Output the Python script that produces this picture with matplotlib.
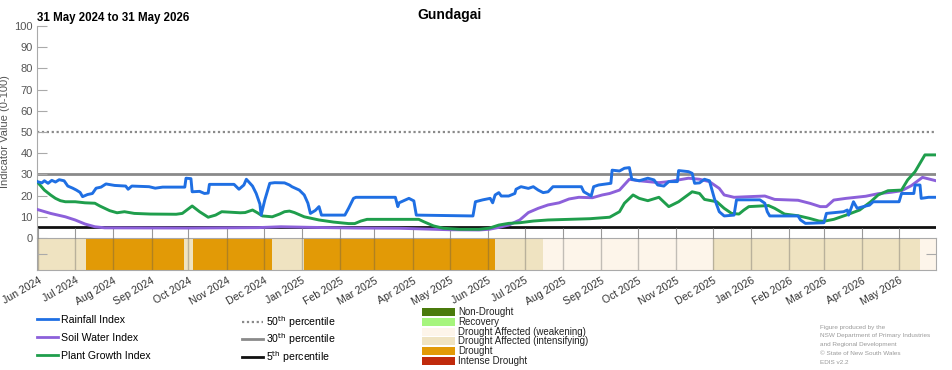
import matplotlib
matplotlib.use('Agg')
import matplotlib.pyplot as plt
from matplotlib.lines import Line2D
from matplotlib.patches import Rectangle
import pandas as pd

plt.rcParams['font.family'] = ['Liberation Sans', 'DejaVu Sans']

# ---------------- data ----------------
rain_dates = ['2024-05-31','2024-06-04','2024-06-06','2024-06-09','2024-06-12','2024-06-15','2024-06-18','2024-06-22',
              '2024-06-25','2024-06-29','2024-07-02','2024-07-05','2024-07-07','2024-07-11','2024-07-15','2024-07-18',
              '2024-07-22','2024-07-26','2024-08-02','2024-08-11','2024-08-13','2024-08-16','2024-08-30','2024-09-04',
              '2024-09-10','2024-09-28','2024-09-29','2024-10-03','2024-10-04','2024-10-10','2024-10-14','2024-10-17',
              '2024-10-18','2024-11-07','2024-11-11','2024-11-15','2024-11-17','2024-11-22','2024-11-25','2024-11-28',
              '2024-11-29','2024-12-02','2024-12-06','2024-12-10','2024-12-18','2024-12-22','2024-12-24','2024-12-30',
              '2025-01-03','2025-01-06','2025-01-08','2025-01-12','2025-01-15','2025-01-17','2025-02-05','2025-02-08',
              '2025-02-12','2025-02-14','2025-03-18','2025-03-20','2025-03-21','2025-03-29','2025-04-02','2025-04-04',
              '2025-05-20','2025-05-22','2025-05-28','2025-06-03','2025-06-05','2025-06-07','2025-06-10','2025-06-12',
              '2025-06-18','2025-06-23','2025-06-24','2025-06-28','2025-07-04','2025-07-08','2025-07-12','2025-07-16',
              '2025-07-20','2025-07-24','2025-08-16','2025-08-18','2025-08-24','2025-08-26','2025-08-30','2025-09-09',
              '2025-09-10','2025-09-16','2025-09-20','2025-09-24','2025-09-26','2025-10-02','2025-10-09','2025-10-14',
              '2025-10-17','2025-10-22','2025-10-26','2025-11-02','2025-11-03','2025-11-11','2025-11-14','2025-11-16',
              '2025-11-20','2025-11-24','2025-11-28','2025-12-02','2025-12-06','2025-12-10','2025-12-18','2025-12-20',
              '2026-01-08','2026-01-12','2026-01-14','2026-01-16','2026-02-08','2026-02-10','2026-02-14','2026-03-01',
              '2026-03-03','2026-03-17','2026-03-20','2026-03-21','2026-03-25','2026-03-28','2026-04-02','2026-04-07',
              '2026-04-10','2026-05-01','2026-05-03','2026-05-13','2026-05-14','2026-05-18','2026-05-19','2026-05-25',
              '2026-05-31']
rain_vals = [26.6,26.0,27.0,25.8,27.2,26.4,27.5,27.0,
             24.5,23.5,22.6,21.5,19.5,20.5,21.0,23.5,
             24.0,25.5,24.8,24.5,23.0,24.5,24.2,23.5,
             24.0,24.0,28.2,28.0,21.8,22.0,21.0,21.2,
             25.3,25.3,23.0,25.0,27.7,24.5,21.0,16.0,
             10.8,18.0,25.8,26.1,26.0,25.0,24.2,22.6,
             20.3,16.4,11.6,13.0,14.8,10.8,10.8,14.0,
             18.7,19.2,19.2,14.8,16.6,18.7,17.5,10.8,
             10.4,17.1,18.0,18.7,16.6,20.3,21.4,19.8,
             19.8,21.0,23.0,24.2,23.4,24.2,22.6,21.4,
             21.8,24.2,24.2,21.8,19.8,24.2,25.0,25.8,
             32.0,31.6,32.9,33.2,27.7,27.0,28.2,27.4,
             25.0,24.5,26.6,26.6,31.8,31.3,30.5,25.8,
             26.0,27.7,27.0,18.7,12.4,10.4,10.8,18.0,
             18.0,16.4,12.4,10.4,10.4,8.5,6.9,7.2,
             11.6,12.4,13.2,10.8,17.1,14.0,14.8,15.5,
             17.1,17.1,21.0,21.0,25.0,25.0,18.7,19.2,
             19.2]

soil_dates = ['2024-05-31','2024-06-11','2024-06-23','2024-07-01','2024-07-09','2024-07-17','2024-07-25','2024-09-30',
              '2024-11-27','2024-12-15','2025-01-10','2025-02-15','2025-03-21','2025-05-01','2025-05-25','2025-06-02',
              '2025-06-10','2025-06-18','2025-06-27','2025-07-04','2025-07-12','2025-07-20','2025-07-29','2025-08-06',
              '2025-08-14','2025-08-25','2025-09-02','2025-09-08','2025-09-16','2025-09-24','2025-10-02','2025-10-18',
              '2025-10-26','2025-11-03','2025-11-11','2025-11-20','2025-11-28','2025-12-06','2025-12-10','2025-12-18',
              '2025-12-30','2026-01-12','2026-01-20','2026-02-08','2026-02-18','2026-02-26','2026-03-03','2026-03-09',
              '2026-03-19','2026-04-04','2026-04-14','2026-04-25','2026-05-03','2026-05-11','2026-05-20','2026-05-31']
soil_vals = [13.5,11.6,10.0,8.5,6.6,5.3,4.8,4.7,
             4.9,5.3,5.0,4.7,4.6,3.9,3.8,4.1,
             5.0,6.1,8.5,12.0,14.0,15.6,16.6,18.4,
             19.2,19.0,20.3,21.0,22.6,27.7,27.0,26.1,
             26.6,27.4,28.2,27.7,26.6,23.4,20.3,19.2,
             19.5,19.8,18.2,17.8,16.3,14.8,14.8,17.9,
             18.7,19.7,20.9,21.6,22.3,24.7,28.6,27.0]

plant_dates = ['2024-05-31','2024-06-06','2024-06-11','2024-06-15','2024-06-19','2024-06-23','2024-07-01','2024-07-09',
               '2024-07-17','2024-07-21','2024-07-25','2024-07-29','2024-08-04','2024-08-10','2024-08-18','2024-08-31',
               '2024-09-21','2024-09-26','2024-10-04','2024-10-10','2024-10-17','2024-10-23','2024-10-28','2024-11-12',
               '2024-11-16','2024-11-22','2024-11-26','2024-11-30','2024-12-08','2024-12-14','2024-12-18','2024-12-22',
               '2024-12-26','2025-01-03','2025-01-15','2025-01-27','2025-02-08','2025-02-13','2025-02-18','2025-02-23',
               '2025-03-29','2025-04-06','2025-04-10','2025-04-18','2025-04-26','2025-05-09','2025-05-25','2025-06-02',
               '2025-06-10','2025-06-18','2025-06-27','2025-07-08','2025-07-20','2025-08-06','2025-08-23','2025-09-08',
               '2025-09-16','2025-09-20','2025-09-27','2025-10-02','2025-10-09','2025-10-18','2025-10-26','2025-11-03',
               '2025-11-14','2025-11-20','2025-11-24','2025-12-04','2025-12-10','2025-12-16','2025-12-22','2025-12-26',
               '2025-12-30','2026-01-15','2026-01-20','2026-01-28','2026-02-08','2026-02-17','2026-02-25','2026-03-01',
               '2026-03-09','2026-03-19','2026-03-30','2026-04-08','2026-04-14','2026-04-22','2026-05-03','2026-05-08',
               '2026-05-14','2026-05-22','2026-05-31']
plant_vals = [26.6,22.6,20.3,18.7,17.6,17.1,17.1,16.6,
              16.4,15.1,14.0,12.9,11.9,12.4,11.6,11.3,
              11.2,11.6,15.1,12.4,9.8,10.8,12.4,11.9,
              12.0,13.2,11.9,10.4,10.0,11.3,12.4,12.7,
              12.0,10.0,8.5,7.5,6.8,6.8,8.0,8.8,
              8.8,8.8,7.7,5.7,4.6,4.1,4.1,4.6,
              6.1,6.9,7.2,8.0,8.5,8.8,9.1,9.8,
              12.4,16.4,20.3,18.7,17.6,19.2,14.8,17.1,
              21.8,21.0,18.2,17.1,14.0,11.6,11.3,13.2,
              14.8,15.3,14.0,11.3,10.5,9.3,8.0,7.9,
              8.8,10.8,13.2,17.1,20.3,22.3,22.6,27.4,
              31.3,39.2,39.2]

band_starts = ['2024-05-31','2024-07-10','2024-09-27','2024-10-05','2024-12-08','2025-01-03',
               '2025-06-07','2025-07-16','2025-12-01','2026-05-18']
band_ends = ['2024-07-10','2024-09-27','2024-10-05','2024-12-08','2025-01-03','2025-06-07',
             '2025-07-16','2025-12-01','2026-05-18','2026-05-31']
band_cats = ['Drought Affected (intensifying)','Drought','Drought Affected (intensifying)','Drought',
             'Drought Affected (intensifying)','Drought','Drought Affected (intensifying)',
             'Drought Affected (weakening)','Drought Affected (intensifying)','Drought Affected (weakening)']

categories = ['Non-Drought','Recovery','Drought Affected (weakening)','Drought Affected (intensifying)',
              'Drought','Intense Drought']
cat_colors = ['#4a7a0c','#a6f57d','#fdf5ea','#efe3c1','#e29a06','#c02a0c']

percentiles = [50, 30, 5]

# ---------------- figure ----------------
W, H = 952, 370
fig = plt.figure(figsize=(9.52, 3.70), dpi=100)
ax = fig.add_axes([37/W, 1-238/H, (936-37)/W, (238-26)/H])
band = fig.add_axes([37/W, 1-270/H, (936-37)/W, 32/H], sharex=ax)

c_rain, c_soil, c_plant = '#1f6fe3', '#8c60da', '#1f9e4c'
dot = (0, (1, 1.2))

ax.axhline(percentiles[0], color='#8a8a8a', lw=1.6, ls=dot, zorder=1)
ax.axhline(percentiles[1], color='#8a8a8a', lw=2.0, zorder=1)
ax.axhline(percentiles[2], color='#111111', lw=2.0, zorder=1)

ax.plot(pd.to_datetime(soil_dates), soil_vals, color=c_soil, lw=2.1, zorder=3)
ax.plot(pd.to_datetime(plant_dates), plant_vals, color=c_plant, lw=2.1, zorder=4)
ax.plot(pd.to_datetime(rain_dates), rain_vals, color=c_rain, lw=2.1, zorder=5)

xmin, xmax = pd.Timestamp('2024-05-31'), pd.Timestamp('2026-05-31')
ax.set_xlim(xmin, xmax)
ax.set_ylim(0, 100)
ax.set_yticks(range(0, 101, 10))
months = pd.date_range('2024-06-01', '2026-05-01', freq='MS')
ax.set_xticks(months)
ax.tick_params(axis='y', direction='in', length=7, color='#aaaaaa', labelcolor='#555555', labelsize=8, pad=3)
ax.tick_params(axis='x', direction='in', length=7, color='#999999', labelbottom=False)
for s in ['top', 'right', 'bottom']:
    ax.spines[s].set_visible(False)
ax.spines['left'].set_color('#aaaaaa')
ax.set_ylabel('Indicator Value (0-100)', color='#555555', fontsize=8)
ax.yaxis.set_label_coords(-27/899, 0.5)

cmap = dict(zip(categories, cat_colors))
for s, e, c in zip(band_starts, band_ends, band_cats):
    band.axvspan(pd.Timestamp(s), pd.Timestamp(e), color=cmap[c], lw=0, zorder=0)
band.set_ylim(0, 1)
band.set_yticks([0.5])
band.tick_params(axis='y', direction='in', length=7, color='#aaaaaa', left=True, right=True,
                 labelleft=False)
band.grid(axis='x', color='#555555', alpha=0.35, lw=1.0, zorder=1)
band.set_axisbelow(False)
band.tick_params(axis='x', length=0, pad=4, labelsize=7.6, labelcolor='#333333')
band.set_xticks(months)
band.set_xticklabels([m.strftime('%b %Y') for m in months], rotation=30, ha='right', rotation_mode='anchor')
for s in band.spines.values():
    s.set_color('#aaaaaa')
band.set_xlim(xmin, xmax)

# titles
fig.text(449/W, 1-15/H, 'Gundagai', ha='center', va='center', fontsize=10, fontweight='bold')
fig.text(37/W, 1-18/H, '31 May 2024 to 31 May 2026', ha='left', va='center', fontsize=8.3,
         fontweight='bold')

# index legend
h1 = [Line2D([], [], color=c_rain, lw=2), Line2D([], [], color=c_soil, lw=2), Line2D([], [], color=c_plant, lw=2)]
fig.legend(h1, ['Rainfall Index', 'Soil Water Index', 'Plant Growth Index'], loc='upper left',
           bbox_to_anchor=(37/W, 1-315/H), frameon=False, fontsize=7.6, handlelength=2.0,
           handletextpad=0.3, labelspacing=0.75, borderpad=0, borderaxespad=0)
# percentile legend
h2 = [Line2D([], [], color='#8a8a8a', lw=1.6, ls=dot), Line2D([], [], color='#8a8a8a', lw=2),
      Line2D([], [], color='#111111', lw=2)]
fig.legend(h2, ['50$^{\\mathrm{th}}$ percentile', '30$^{\\mathrm{th}}$ percentile', '5$^{\\mathrm{th}}$ percentile'],
           loc='upper left', bbox_to_anchor=(242/W, 1-314/H), frameon=False, fontsize=7.6,
           handlelength=2.0, handletextpad=0.3, labelspacing=0.15, borderpad=0, borderaxespad=0)

# drought category legend
for i, (cat, col) in enumerate(zip(categories, cat_colors)):
    yc = 312.3 + i * 9.7
    fig.add_artist(Rectangle((422/W, 1-(yc+4)/H), 32.5/W, 8/H, transform=fig.transFigure,
                             facecolor=col, edgecolor='none'))
    fig.text(458/W, 1-yc/H, cat, ha='left', va='center', fontsize=7, color='#222222')

foot = ['Figure produced by the', 'NSW Department of Primary Industries', 'and Regional Development',
        '\u00a9 State of New South Wales', 'EDIS v2.2']
for i, t in enumerate(foot):
    fig.text(820/W, 1-(327 + i*8.8)/H, t, ha='left', va='center', fontsize=4.6, color='#9a9a9a')

fig.savefig('out.png', dpi=100)
